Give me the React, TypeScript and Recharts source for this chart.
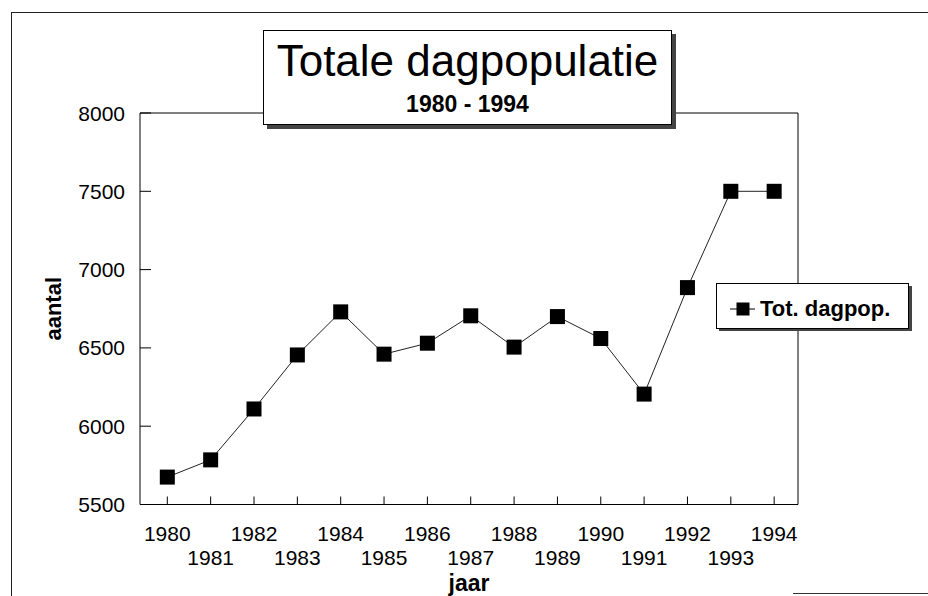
import { LineChart, Line, XAxis, YAxis, ReferenceArea, Legend } from "recharts";

const years = [1980, 1981, 1982, 1983, 1984, 1985, 1986, 1987, 1988, 1989, 1990, 1991, 1992, 1993, 1994];
const dagpop = [5675, 5785, 6110, 6455, 6730, 6460, 6530, 6705, 6505, 6700, 6560, 6205, 6885, 7500, 7500];
const yTicks = [5500, 6000, 6500, 7000, 7500, 8000];

const data = years.map((jaar, i) => ({ jaar, dagpop: dagpop[i] }));

const FONT = '"Liberation Sans", Arial, sans-serif';

function XTick({ x, y, payload }: any) {
  const odd = payload.value % 2 === 1;
  return (
    <g>
      <line x1={x} x2={x} y1={y} y2={y - 8} stroke="#000" />
      <text x={x} y={y + (odd ? 60.5 : 36.5)} textAnchor="middle" fontSize={21} fontFamily={FONT} fill="#000">
        {payload.value}
      </text>
    </g>
  );
}

function YTick({ x, y, payload }: any) {
  return (
    <g>
      <line x1={x} x2={x + 11} y1={y} y2={y} stroke="#000" />
      <text x={x - 15} y={y + 7.5} textAnchor="end" fontSize={21} fontFamily={FONT} fill="#000">
        {payload.value}
      </text>
    </g>
  );
}

function SquareDot(props: any) {
  const { cx, cy, index } = props;
  return <rect key={index} x={cx - 7.5} y={cy - 7.5} width={15} height={15} fill="#000" />;
}

function LegendBox() {
  return (
    <svg width={200} height={52}>
      <rect x={3} y={3} width={193} height={45} fill="#444" />
      <rect x={0.5} y={0.5} width={192} height={45} fill="#fff" stroke="#000" />
      <line x1={14} x2={39} y1={26} y2={26} stroke="#000" />
      <rect x={20.5} y={19.5} width={13} height={13} fill="#000" />
      <text x={44} y={33} fontSize={22} fontWeight="bold" fontFamily={FONT} fill="#000">
        Tot. dagpop.
      </text>
    </svg>
  );
}

export default function App() {
  return (
    <div style={{ position: "absolute", left: 0, top: 0, width: 928, height: 596, background: "#fff" }}>
      {/* outer frame */}
      <div style={{ position: "absolute", left: 11, top: 12, width: 917, height: 584, borderLeft: "1.5px solid #222", borderTop: "1.5px solid #222" }} />
      <div style={{ position: "absolute", left: 793, top: 593, width: 135, height: 0, borderTop: "1.5px solid #333" }} />

      <LineChart width={928} height={596} data={data} margin={{ top: 113, right: 130, bottom: 0, left: 0 }}>
        <XAxis
          dataKey="jaar"
          type="number"
          domain={[1979.37, 1994.55]}
          ticks={years}
          interval={0}
          height={91.5}
          tickSize={0}
          tickMargin={0}
          axisLine={false}
          tickLine={false}
          tick={<XTick />}
          label={{
            content: () => (
              <text x={469} y={591} textAnchor="middle" fontSize={23} fontWeight="bold" fontFamily={FONT} fill="#000">
                jaar
              </text>
            ),
          }}
        />
        <YAxis
          type="number"
          domain={[5500, 8000]}
          ticks={yTicks}
          interval={0}
          width={140}
          tickSize={0}
          tickMargin={0}
          axisLine={false}
          tickLine={false}
          tick={<YTick />}
          label={{
            content: (p: any) => (
              <text
                transform={`translate(61,${p.viewBox.y + p.viewBox.height / 2}) rotate(-90)`}
                textAnchor="middle"
                fontSize={22}
                fontWeight="bold"
                fontFamily={FONT}
                fill="#000"
              >
                aantal
              </text>
            ),
          }}
        />
        <ReferenceArea x1={1979.37} x2={1994.55} y1={5500} y2={8000} fill="none" stroke="#000" strokeOpacity={1} />
        <Line
          dataKey="dagpop"
          name="Tot. dagpop."
          stroke="#222"
          strokeWidth={1}
          dot={SquareDot}
          activeDot={false}
          isAnimationActive={false}
        />
        <Legend
          layout="horizontal"
          verticalAlign="middle"
          align="center"
          content={() => <LegendBox />}
          wrapperStyle={{ left: 716, top: 283, width: 200, height: 52 }}
        />
      </LineChart>

      {/* title box */}
      <div
        style={{
          position: "absolute",
          left: 263,
          top: 30,
          width: 409,
          height: 95,
          boxSizing: "border-box",
          border: "1px solid #000",
          background: "#fff",
          boxShadow: "4px 4px 0 #444",
          fontFamily: FONT,
          color: "#000",
        }}
      >
        <div style={{ position: "absolute", left: 0, right: 0, top: 8, textAlign: "center", fontSize: 44, lineHeight: "44px" }}>
          Totale dagpopulatie
        </div>
        <div style={{ position: "absolute", left: 0, right: 0, top: 61.5, textAlign: "center", fontSize: 23, lineHeight: "23px", fontWeight: "bold" }}>
          1980 - 1994
        </div>
      </div>
    </div>
  );
}
